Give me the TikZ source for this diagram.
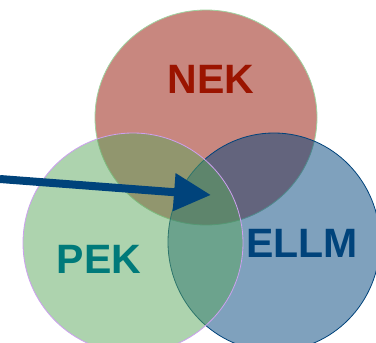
\documentclass[tikz,border=0pt]{standalone}
\usepackage{fontspec}
\setmainfont{Liberation Sans}
\usetikzlibrary{arrows.meta}
\definecolor{nekred}{RGB}{145,15,0}
\definecolor{nektext}{RGB}{155,20,0}
\definecolor{pekgreen}{RGB}{91,167,93}
\definecolor{pektext}{RGB}{0,122,122}
\definecolor{ellmblue}{RGB}{0,67,123}
\definecolor{nekline}{RGB}{160,210,160}
\definecolor{pekline}{RGB}{205,160,240}
\tikzset{
  setfill/.style={fill opacity=0.5, line width=0.8pt},
  setlabel/.style={font=\fontsize{41}{48}\selectfont\bfseries},
}

\begin{document}
\begin{tikzpicture}[x=1pt, y=-1pt]
		%%%%% START %%%%%
		\useasboundingbox (0, 0) rectangle (376, 343);
		
		% the three sets
		\draw[setfill, fill=nekred, draw=nekline] (206, 117.5) ellipse [x radius=111pt, y radius=107.5pt];
		\draw[setfill, fill=ellmblue, draw=ellmblue] (274, 242) ellipse [x radius=106pt, y radius=109pt];
		\draw[setfill, fill=pekgreen, draw=pekline] (133, 243) ellipse [x radius=110pt, y radius=110pt];
		
		\node[setlabel, text=nektext] (nek) at (211, 79) {NEK};
		\node[setlabel, text=pektext] (pek) at (99, 259) {PEK};
		\node[setlabel, text=ellmblue] (ellm) at (302, 243) {ELLM};
		
		% pointer into the middle
		\coordinate (from) at (0, 179);
		\coordinate (core) at (211, 195);
		\draw[-{Triangle[length=37pt, width=36pt]}, line width=8pt, color=ellmblue] (from) -- (core);
		
		%%%%% END %%%%%
	\end{tikzpicture}
\end{document}
